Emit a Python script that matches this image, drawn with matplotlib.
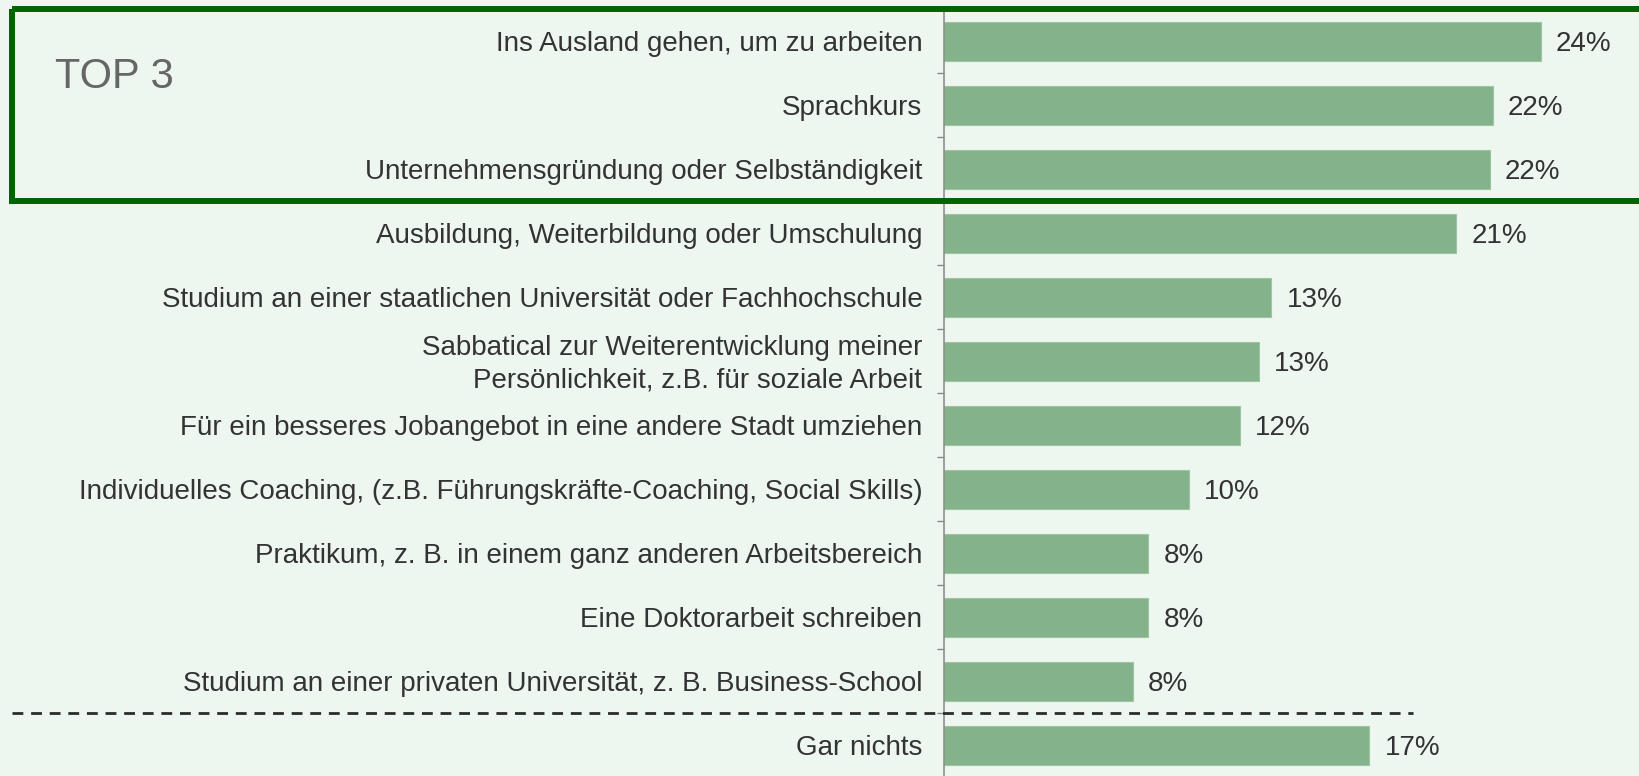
import matplotlib.pyplot as plt
import matplotlib.transforms as mtransforms
from matplotlib.patches import Rectangle
import numpy as np

plt.rcParams['font.family'] = ['Liberation Sans', 'DejaVu Sans']

labels = [
    "Ins Ausland gehen, um zu arbeiten",
    "Sprachkurs",
    "Unternehmensgründung oder Selbständigkeit",
    "Ausbildung, Weiterbildung oder Umschulung",
    "Studium an einer staatlichen Universität oder Fachhochschule",
    "Sabbatical zur Weiterentwicklung meiner\nPersönlichkeit, z.B. für soziale Arbeit",
    "Für ein besseres Jobangebot in eine andere Stadt umziehen",
    "Individuelles Coaching, (z.B. Führungskräfte-Coaching, Social Skills)",
    "Praktikum, z. B. in einem ganz anderen Arbeitsbereich",
    "Eine Doktorarbeit schreiben",
    "Studium an einer privaten Universität, z. B. Business-School",
    "Gar nichts",
]
values = [24.0, 22.07, 21.95, 20.6, 13.15, 12.65, 11.9, 9.84, 8.2, 8.2, 7.57, 17.1]
value_labels = ["24%", "22%", "22%", "21%", "13%", "13%", "12%", "10%", "8%", "8%", "8%", "17%"]

bg = '#edf7f0'
bar_color = '#84b38b'
text_color = '#333333'

fig = plt.figure(figsize=(16.4, 7.76), dpi=100, facecolor=bg)
ax = fig.add_axes([944.5 / 1640, -0.0019, 1 - 944.5 / 1640, 0.9897])
ax.set_facecolor(bg)

y = np.arange(len(labels))
ax.barh(y, values, height=0.6, color=bar_color, edgecolor='#9cc6a2', linewidth=0.8)
ax.set_xlim(0, 28)
ax.set_ylim(len(labels) - 0.5, -0.5)

for yi, v, t in zip(y, values, value_labels):
    ax.annotate(t, xy=(v, yi), xytext=(11, -2), textcoords='offset points',
                va='center', ha='left', fontsize=20, color=text_color)

# category labels drawn as text so they sit right-aligned next to the axis
for yi, lab in zip(y, labels):
    ax.annotate(lab, xy=(0, yi), xycoords=('axes fraction', 'data'),
                xytext=(-16, -2), textcoords='offset points',
                ha='right', va='center', fontsize=20, color=text_color,
                linespacing=1.35)

ax.set_yticks([])
ax.set_yticks(np.arange(0.5, 11.0, 1.0), minor=True)
ax.tick_params(axis='y', which='minor', length=5, width=1, color='#888888', left=True)
ax.set_xticks([])
for s in ['top', 'right', 'bottom']:
    ax.spines[s].set_visible(False)
ax.spines['left'].set_color('#888888')
ax.spines['left'].set_linewidth(1.1)

trans = mtransforms.blended_transform_factory(fig.transFigure, ax.transData)

# separator before "Gar nichts"
ax.plot([12 / 1640, 1413 / 1640], [10.5, 10.5], transform=trans, clip_on=False,
        color='#2b2b2b', linewidth=2, dashes=(3.9, 2.8), zorder=5)

# TOP 3 box
box = Rectangle((12.5 / 1640, -0.5), 1.2, 3.0, transform=trans, clip_on=False,
                fill=False, edgecolor='#006400', linewidth=4.3, zorder=6)
ax.add_patch(box)
fig.text(55 / 1640, 1 - 77 / 776, "TOP 3", fontsize=30, color='#666666',
         ha='left', va='center')

fig.savefig('out.png', dpi=100, facecolor=bg)
